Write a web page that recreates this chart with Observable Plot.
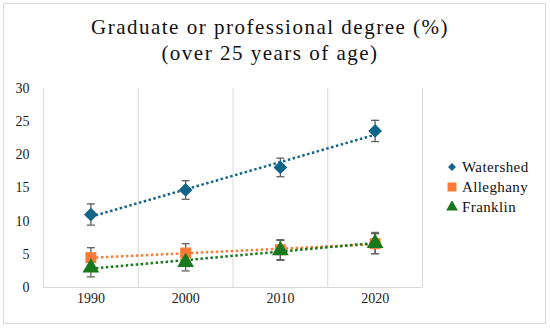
<!DOCTYPE html>
<html>
<head>
<meta charset="utf-8">
<script src="https://cdn.jsdelivr.net/npm/d3@7"></script>
<script src="https://cdn.jsdelivr.net/npm/@observablehq/plot@0.6"></script>
<style>
  html, body { margin: 0; padding: 0; background: #fff; }
  #wrap { position: relative; width: 550px; height: 328px; overflow: hidden; background: #fff; }
  #frame { position: absolute; left: 3px; top: 3px; width: 541px; height: 319px; border: 1px solid #d9d9d9; box-sizing: content-box; }
  #title { position: absolute; left: 0; top: 14px; width: 540px; text-align: center;
           font-family: "Liberation Serif", "DejaVu Serif", serif; font-size: 21px; line-height: 26px;
           letter-spacing: 1.5px; color: #111; }
  #chart { position: absolute; left: 0; top: 0; }
  #legend { position: absolute; left: 446px; top: 157px; font-family: "Liberation Serif", serif; font-size: 15px; color: #111; letter-spacing: 0.4px; }
  #legend .item { display: flex; align-items: center; height: 20px; }
  #legend svg { margin-right: 4px; }
</style>
</head>
<body>
<div id="wrap">
  <div id="frame"></div>
  <div id="title">Graduate or professional degree (%)<br>(over 25 years of age)</div>
  <div id="chart"></div>
  <div id="legend"></div>
</div>
<script>
const years = [1990, 2000, 2010, 2020];
const seriesNames = ["Watershed", "Alleghany", "Franklin"];
const watershed = [11.0, 14.7, 18.1, 23.6];
const alleghany = [4.5, 5.2, 5.7, 6.6];
const franklin = [3.0, 3.8, 5.6, 6.7];
const watershedErr = [1.6, 1.4, 1.4, 1.6];
const alleghanyErr = [1.5, 1.4, 1.5, 1.5];
const franklinErr = [1.4, 1.3, 1.5, 1.6];
const colors = ["#12658a", "#fa7b35", "#18781c"];
const symbols = ["diamond2", "square", "triangle"];
const yTicks = [0, 5, 10, 15, 20, 25, 30];
const xTicks = [1990, 2000, 2010, 2020];
const gridX = [1985, 1995, 2005, 2015, 2025];

const values = [watershed, alleghany, franklin];
const errs = [watershedErr, alleghanyErr, franklinErr];
const data = [];
seriesNames.forEach((s, i) => years.forEach((yr, j) => data.push({series: s, year: yr, value: values[i][j], err: errs[i][j]})));

// horizontal cap symbol for error bars
const capSymbol = {draw(ctx, size) { const r = Math.sqrt(size / Math.PI); ctx.moveTo(-r, 0); ctx.lineTo(r, 0); }};

const serif = "Liberation Serif, serif";
const chart = Plot.plot({
  width: 550,
  height: 328,
  marginTop: 88,
  marginBottom: 41,
  marginLeft: 43,
  marginRight: 128,
  style: {fontFamily: serif, fontSize: "14px", color: "#222", background: "transparent", overflow: "visible"},
  x: {domain: [1985, 2025], ticks: xTicks, tickFormat: d => String(d), tickSize: 0, tickPadding: 6, label: null},
  y: {domain: [0, 30], ticks: yTicks, tickSize: 0, tickPadding: 14, label: null},
  color: {domain: seriesNames, range: colors},
  symbol: {domain: seriesNames, range: symbols},
  marks: [
    Plot.ruleX(gridX, {stroke: "#d9d9d9", strokeWidth: 1}),
    Plot.ruleY([0], {stroke: "#d9d9d9", strokeWidth: 1}),
    Plot.axisX({tickSize: 0, tickPadding: 6, ticks: xTicks, tickFormat: d => String(d), fontSize: 14, letterSpacing: "2px", fill: "#222"}),
    Plot.axisY({tickSize: 0, tickPadding: 14, ticks: yTicks, fontSize: 14, fill: "#222"}),
    Plot.ruleX(data, {x: "year", y1: d => d.value - d.err, y2: d => d.value + d.err, stroke: "#606060", strokeWidth: 1.3}),
    Plot.dot(data, {x: "year", y: d => d.value + d.err, symbol: capSymbol, r: 4, stroke: "#606060", strokeWidth: 1.3, fill: "none"}),
    Plot.dot(data, {x: "year", y: d => d.value - d.err, symbol: capSymbol, r: 4, stroke: "#606060", strokeWidth: 1.3, fill: "none"}),
    Plot.linearRegressionY(data, {x: "year", y: "value", stroke: "series", ci: 0, strokeWidth: 2.5,
      strokeDasharray: "2.5,2.5", strokeLinecap: "butt"}),
    Plot.dot(data, {x: "year", y: "value", symbol: "series", fill: "series", stroke: "none", r: 6.2})
  ]
});
document.getElementById("chart").appendChild(chart);

const legend = d3.select("#legend");
seriesNames.forEach((s, i) => {
  const item = legend.append("div").attr("class", "item");
  const svg = item.append("svg").attr("width", 12).attr("height", 12);
  svg.append("path").attr("transform", "translate(6,6)")
    .attr("d", d3.symbol([d3.symbolDiamond2, d3.symbolSquare, d3.symbolTriangle][i], [40, 80, 60][i])())
    .attr("fill", colors[i]);
  item.append("span").text(s);
});
</script>
</body>
</html>
